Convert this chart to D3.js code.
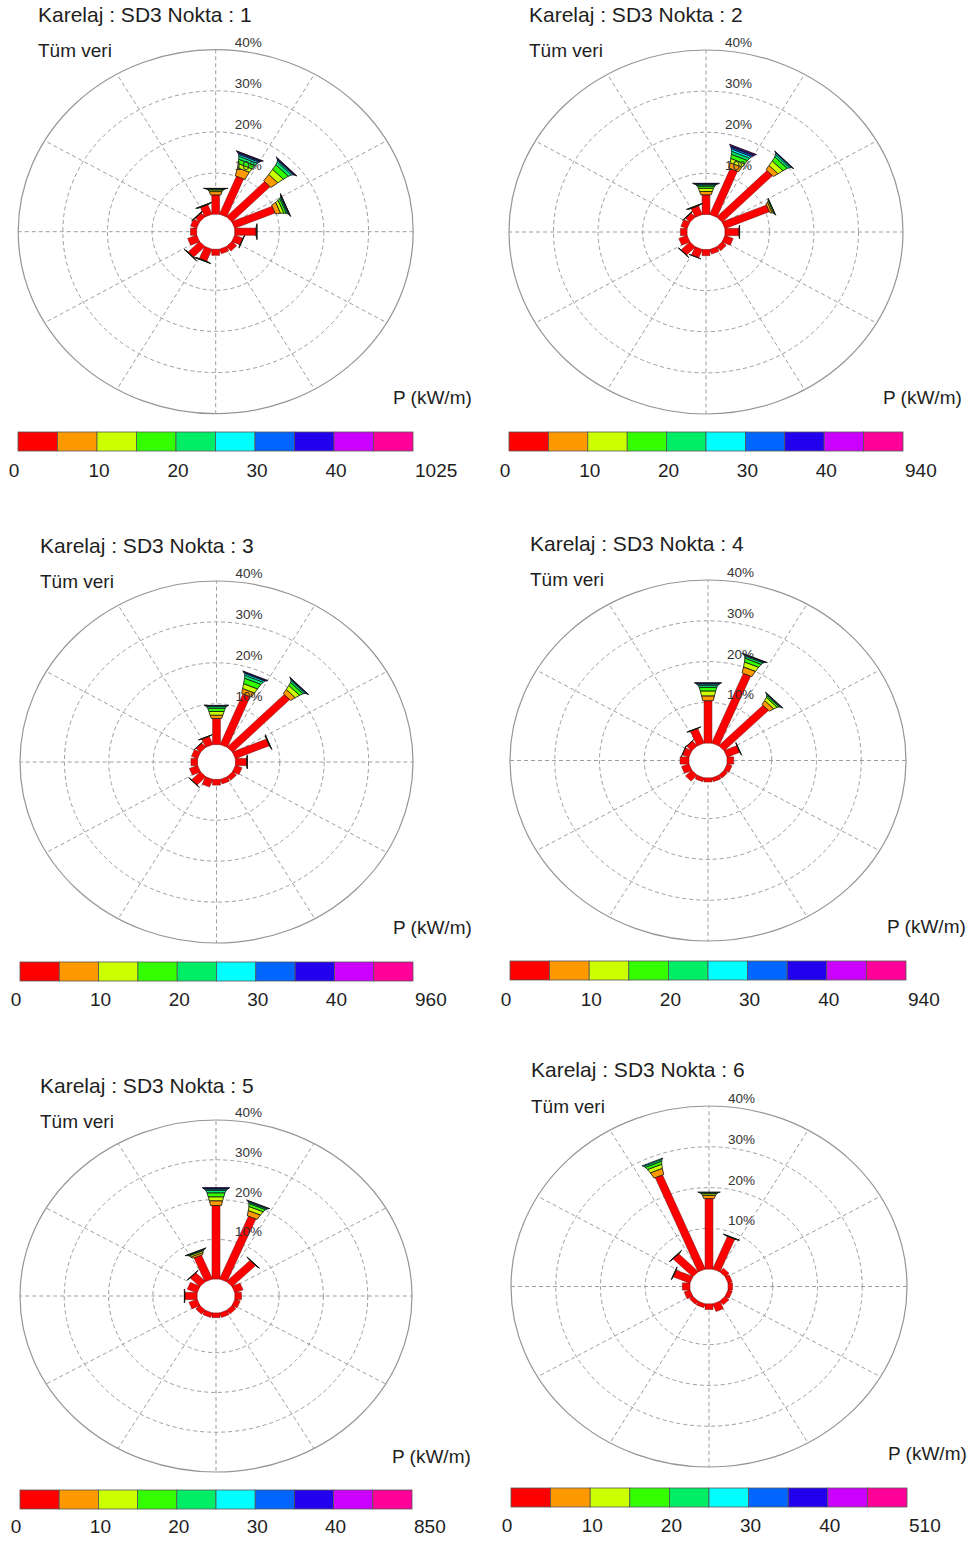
<!DOCTYPE html>
<html>
<head>
<meta charset="utf-8">
<script src="https://cdn.jsdelivr.net/npm/d3@7"></script>
<style>
  html, body { margin: 0; padding: 0; background: #fff; }
  svg { display: block; font-family: "Liberation Sans", Arial, sans-serif; }
</style>
</head>
<body>
<div id="chart"></div>
<script>
/* ---- data ---- */
var titles = [
  'Karelaj : SD3 Nokta : 1', 'Karelaj : SD3 Nokta : 2', 'Karelaj : SD3 Nokta : 3',
  'Karelaj : SD3 Nokta : 4', 'Karelaj : SD3 Nokta : 5', 'Karelaj : SD3 Nokta : 6'
];
var maxLabels = ['1025', '940', '960', '940', '850', '510'];
var legendTicks = ['0', '10', '20', '30', '40'];
var ringPcts = [10, 20, 30, 40];
var dirs = ['N', 'NNE', 'NE', 'ENE', 'E', 'ESE', 'SE', 'SSE',
            'S', 'SSW', 'SW', 'WSW', 'W', 'WNW', 'NW', 'NNW'];
/* power classes 0-5, 5-10, ... 45-max */
var classColors = ['#ff0000', '#ff9900', '#ccff00', '#33ff00', '#00ee66',
                   '#00ffff', '#0066ff', '#2200ee', '#cc00ff', '#ff0099'];

/* % occurrence per direction (N clockwise), split by power class */
var rose1 = [
  [4.7, 0.8, 0.4, 0.2, 0.1, 0.05, 0.05],
  [10.0, 2.0, 1.0, 1.0, 0.7, 0.4, 0.3, 0.2, 0.1],
  [12.1, 1.9, 1.5, 1.3, 0.7, 0.3, 0.2, 0.1, 0.1],
  [9.8, 1.1, 0.7, 0.5, 0.3, 0.15, 0.1, 0.05],
  [4.8, 0.1, 0.05, 0.05],
  [2.0, 0.05, 0.05],
  [1.5], [1.2], [1.5],
  [3.2, 0.05, 0.05, 0.05],
  [3.6, 0.1, 0.05, 0.05],
  [2.2], [1.4], [1.5],
  [1.3, 0.05, 0.05, 0.05],
  [2.5, 0.1, 0.05, 0.05]
];
var rose2 = [
  [4.8, 0.8, 0.8, 0.5, 0.3, 0.2, 0.1, 0.1],
  [12.1, 1.3, 1.0, 1.0, 0.7, 0.5, 0.4, 0.3, 0.2],
  [16.0, 1.2, 1.3, 1.1, 0.5, 0.3, 0.1, 0.1],
  [10.8, 0.5, 0.3, 0.1, 0.1],
  [3.2, 0.05, 0.05],
  [2.0], [1.3], [1.2], [1.5],
  [2.2, 0.05],
  [2.8, 0.05, 0.05],
  [2.0], [1.5], [1.5],
  [1.4, 0.05, 0.05],
  [2.3, 0.1, 0.05, 0.05]
];
var rose3 = [
  [6.4, 0.8, 0.9, 0.8, 0.4, 0.2, 0.1],
  [13.4, 1.2, 1.2, 1.3, 0.7, 0.4, 0.2, 0.2],
  [18.2, 1.2, 1.1, 0.8, 0.4, 0.2, 0.1, 0.1],
  [8.3, 0.05, 0.05, 0.05],
  [2.6, 0.05, 0.05],
  [1.6], [1.2], [1.2], [1.4], [2.0],
  [2.8, 0.05, 0.05],
  [2.0], [1.5], [1.5],
  [1.4, 0.05],
  [2.2, 0.05, 0.05]
];
var rose4 = [
  [10.4, 1.2, 1.2, 0.9, 0.5, 0.3, 0.2, 0.1],
  [18.5, 1.5, 1.2, 0.9, 0.5, 0.2, 0.1, 0.1],
  [14.0, 1.1, 0.8, 0.4, 0.2, 0.1, 0.1],
  [3.1, 0.05, 0.05],
  [1.5], [1.2], [1.0], [1.0], [1.0], [1.0], [2.0], [1.8], [2.0],
  [1.6, 0.05],
  [1.6, 0.05],
  [3.9, 0.05, 0.05]
];
var rose5 = [
  [18.5, 1.2, 1.0, 1.0, 0.6, 0.3, 0.2, 0.2],
  [17.1, 1.3, 1.0, 0.7, 0.3, 0.2, 0.1],
  [7.5, 0.05, 0.05, 0.05],
  [2.0], [1.5], [1.3], [1.2], [1.2], [1.2], [1.2], [1.3], [2.0],
  [2.8, 0.05, 0.05],
  [2.4],
  [3.1, 0.05, 0.05],
  [6.5, 0.5, 0.4, 0.2, 0.1, 0.1]
];
var rose6 = [
  [17.3, 0.8, 0.4, 0.2, 0.1, 0.1],
  [8.7, 0.05, 0.05, 0.05],
  [1.2], [1.0], [1.0], [1.0], [1.2], [2.0], [1.4], [1.0], [1.0], [1.4], [1.7],
  [4.1, 0.05, 0.05],
  [6.2, 0.05, 0.05, 0.05],
  [25.0, 1.5, 1.0, 0.7, 0.4, 0.2]
];
var roses = [rose1, rose2, rose3, rose4, rose5, rose6];

/* ---- layout (the scanned panels are not quite aligned) ---- */
var panels = [
  { cx: 215.7, cy: 231.7, rx: 197.5, ry: 182,   tx: 38,  ty: 22,   vy: 57,   px: 393, py: 404,  lx0: 18,  lx1: 413, ly: 432,  lty: 477 },
  { cx: 706,   cy: 232,   rx: 197,   ry: 182,   tx: 529, ty: 22,   vy: 57,   px: 883, py: 404,  lx0: 509, lx1: 903, ly: 432,  lty: 477 },
  { cx: 216.5, cy: 762,   rx: 196.5, ry: 181,   tx: 40,  ty: 553,  vy: 588,  px: 393, py: 934,  lx0: 20,  lx1: 413, ly: 962,  lty: 1006 },
  { cx: 708,   cy: 760.5, rx: 198,   ry: 180.5, tx: 530, ty: 551,  vy: 586,  px: 887, py: 933,  lx0: 510, lx1: 906, ly: 961,  lty: 1006 },
  { cx: 216,   cy: 1296,  rx: 196,   ry: 176,   tx: 40,  ty: 1093, vy: 1128, px: 392, py: 1463, lx0: 20,  lx1: 412, ly: 1490, lty: 1533 },
  { cx: 709,   cy: 1286.5,rx: 198,   ry: 180.5, tx: 531, ty: 1077, vy: 1113, px: 888, py: 1460, lx0: 511, lx1: 907, ly: 1488, lty: 1532 }
];

var W = 976, H = 1541;
var svg = d3.select('#chart').append('svg')
  .attr('width', W).attr('height', H)
  .attr('viewBox', '0 0 ' + W + ' ' + H);

panels.forEach(function (L, i) {
  drawPanel(L, titles[i], maxLabels[i], roses[i]);
});

function drawPanel(L, title, maxLabel, rose) {
  var g = svg.append('g');
  var sx = L.rx / L.ry;               /* picture is a bit squashed vertically */
  var r = d3.scaleLinear().domain([0, 40]).range([L.ry * 0.096, L.ry]);
  var ang = d3.scaleLinear().domain([0, dirs.length]).range([0, 360]);

  /* point at radius rad along bearing th, offset sideways by off */
  function pt(th, rad, off) {
    var a = th * Math.PI / 180;
    var ux = Math.sin(a), uy = -Math.cos(a);
    var vx = Math.cos(a), vy = Math.sin(a);
    return [L.cx + sx * (ux * rad + vx * off), L.cy + uy * rad + vy * off];
  }

  /* ── grid ── */
  ringPcts.forEach(function (p) {
    var outer = p === 40;
    g.append('ellipse')
      .attr('cx', L.cx).attr('cy', L.cy)
      .attr('rx', r(p) * sx).attr('ry', r(p))
      .attr('fill', 'none')
      .attr('stroke', outer ? '#959595' : '#9e9e9e')
      .attr('stroke-width', outer ? 1.2 : 1)
      .attr('stroke-dasharray', outer ? null : '4,3');
  });
  d3.range(0, 360, 30).forEach(function (a) {
    var p0 = pt(a, r(0), 0), p1 = pt(a, r(40), 0);
    g.append('line')
      .attr('x1', p0[0]).attr('y1', p0[1])
      .attr('x2', p1[0]).attr('y2', p1[1])
      .attr('stroke', '#9e9e9e').attr('stroke-width', 1)
      .attr('stroke-dasharray', '4,3');
  });

  /* ── stacked bars, flaring with power class ── */
  rose.forEach(function (classes, d) {
    var th = ang(d), cum = 0;
    classes.forEach(function (v, k) {
      if (!v) return;
      var w0 = k === 0 ? 3.6 : 4.8 + (k - 1) * 1.1;
      var w1 = k === 0 ? 3.6 : w0 + 1.1;
      var r0 = r(cum), r1 = r(cum + v);
      var poly = [pt(th, r0, -w0), pt(th, r1, -w1), pt(th, r1, w1), pt(th, r0, w0)];
      g.append('polygon')
        .attr('points', poly.map(function (q) { return q.join(','); }).join(' '))
        .attr('fill', classColors[k])
        .attr('stroke', k === 0 ? '#6a0a0a' : '#111')
        .attr('stroke-width', k === 0 ? 0.5 : 0.8);
      cum += v;
    });
  });

  /* ring labels */
  ringPcts.forEach(function (p) {
    g.append('text')
      .attr('x', L.cx + 19).attr('y', L.cy - r(p) - 3)
      .attr('font-size', 13.5).attr('fill', '#333')
      .text(p + '%');
  });

  /* ── texts ── */
  g.append('text').attr('x', L.tx).attr('y', L.ty)
    .attr('font-size', 21).attr('fill', '#1e1e1e').text(title);
  g.append('text').attr('x', L.tx).attr('y', L.vy)
    .attr('font-size', 19).attr('fill', '#1e1e1e').text('Tüm veri');
  g.append('text').attr('x', L.px).attr('y', L.py)
    .attr('font-size', 19).attr('fill', '#1e1e1e').text('P (kW/m)');

  /* ── colour legend ── */
  var lx = d3.scaleLinear().domain([0, classColors.length]).range([L.lx0, L.lx1]);
  classColors.forEach(function (c, k) {
    g.append('rect')
      .attr('x', lx(k)).attr('y', L.ly)
      .attr('width', lx(k + 1) - lx(k)).attr('height', 19)
      .attr('fill', c).attr('stroke', '#555').attr('stroke-width', 0.8);
  });
  legendTicks.forEach(function (t, i) {
    g.append('text')
      .attr('x', lx(i * 2) + (i ? 2 : -4)).attr('y', L.lty)
      .attr('text-anchor', 'middle')
      .attr('font-size', 19).attr('fill', '#1e1e1e').text(t);
  });
  g.append('text')
    .attr('x', lx(classColors.length) + 2).attr('y', L.lty)
    .attr('font-size', 19).attr('fill', '#1e1e1e').text(maxLabel);
}
</script>
</body>
</html>
